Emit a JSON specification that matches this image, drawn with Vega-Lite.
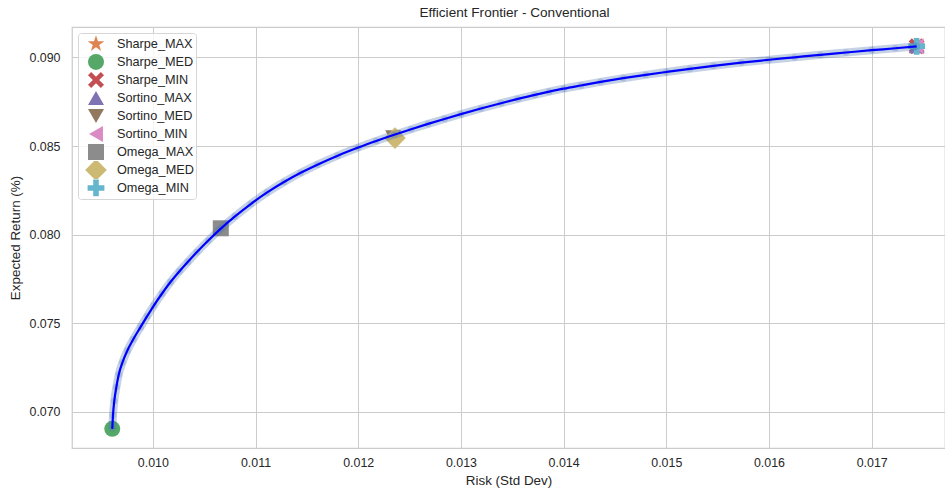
{
  "$schema": "https://vega.github.io/schema/vega-lite/v6.json",
  "width": 873,
  "height": 421,
  "autosize": {"type": "none"},
  "padding": {"left": 72, "top": 27, "right": 0, "bottom": 42},
  "background": "white",
  "title": {"text": "Efficient Frontier - Conventional", "fontSize": 13.6, "fontWeight": "normal", "font": "Liberation Sans", "color": "#262626", "offset": 7, "dx": 6},
  "config": {
    "view": {"stroke": "#cccccc", "strokeWidth": 1.25},
    "axis": {"grid": true, "gridColor": "#cccccc", "gridWidth": 1, "domain": false, "ticks": false, "labelFont": "Liberation Sans", "titleFont": "Liberation Sans", "labelFontSize": 12.4, "titleFontSize": 13.4, "titleFontWeight": "normal", "labelColor": "#262626", "titleColor": "#262626"},
    "legend": {"orient": "top-left", "offset": 6, "padding": 2, "rowPadding": 0, "columnPadding": 0, "columns": 1, "clipHeight": 17.9, "symbolSize": 256, "labelFontSize": 12.7, "labelFont": "Liberation Sans", "labelColor": "#262626", "strokeColor": "#d6d6d6", "fillColor": "rgba(255,255,255,0.8)", "cornerRadius": 3, "symbolOffset": 8, "labelOffset": 13, "symbolOpacity": 1, "symbolStrokeWidth": 0}
  },
  "datasets": {
    "frontier": [
      {"risk": 0.009605, "ret": 0.06904},
      {"risk": 0.009612, "ret": 0.06980},
      {"risk": 0.009625, "ret": 0.07062},
      {"risk": 0.009645, "ret": 0.07140},
      {"risk": 0.009669, "ret": 0.07212},
      {"risk": 0.009705, "ret": 0.07280},
      {"risk": 0.009751, "ret": 0.07345},
      {"risk": 0.009810, "ret": 0.07410},
      {"risk": 0.009880, "ret": 0.07478},
      {"risk": 0.009945, "ret": 0.07540},
      {"risk": 0.010010, "ret": 0.07600},
      {"risk": 0.010090, "ret": 0.07668},
      {"risk": 0.010172, "ret": 0.07733},
      {"risk": 0.010260, "ret": 0.07794},
      {"risk": 0.010340, "ret": 0.07846},
      {"risk": 0.010430, "ret": 0.07902},
      {"risk": 0.010540, "ret": 0.07967},
      {"risk": 0.010662, "ret": 0.08034},
      {"risk": 0.010800, "ret": 0.08103},
      {"risk": 0.010953, "ret": 0.08173},
      {"risk": 0.011110, "ret": 0.08237},
      {"risk": 0.011277, "ret": 0.08297},
      {"risk": 0.011440, "ret": 0.08349},
      {"risk": 0.011602, "ret": 0.08395},
      {"risk": 0.011800, "ret": 0.08446},
      {"risk": 0.012000, "ret": 0.08492},
      {"risk": 0.012175, "ret": 0.08529},
      {"risk": 0.012350, "ret": 0.08564},
      {"risk": 0.012515, "ret": 0.08595},
      {"risk": 0.012680, "ret": 0.08625},
      {"risk": 0.012840, "ret": 0.08653},
      {"risk": 0.013000, "ret": 0.08680},
      {"risk": 0.013195, "ret": 0.08712},
      {"risk": 0.013390, "ret": 0.08742},
      {"risk": 0.013555, "ret": 0.08766},
      {"risk": 0.013720, "ret": 0.08789},
      {"risk": 0.013860, "ret": 0.08807},
      {"risk": 0.014000, "ret": 0.08824},
      {"risk": 0.014168, "ret": 0.08842},
      {"risk": 0.014360, "ret": 0.08862},
      {"risk": 0.014580, "ret": 0.08883},
      {"risk": 0.014800, "ret": 0.08902},
      {"risk": 0.015000, "ret": 0.08918},
      {"risk": 0.015230, "ret": 0.08936},
      {"risk": 0.015460, "ret": 0.08953},
      {"risk": 0.015730, "ret": 0.08971},
      {"risk": 0.016000, "ret": 0.08987},
      {"risk": 0.016250, "ret": 0.09001},
      {"risk": 0.016500, "ret": 0.09015},
      {"risk": 0.016750, "ret": 0.09028},
      {"risk": 0.017000, "ret": 0.09041},
      {"risk": 0.017230, "ret": 0.09052},
      {"risk": 0.017438, "ret": 0.09063}
    ],
    "markers": [
      {"name": "Sharpe_MAX", "risk": 0.017438, "ret": 0.09063},
      {"name": "Sharpe_MED", "risk": 0.009605, "ret": 0.06904},
      {"name": "Sharpe_MIN", "risk": 0.017438, "ret": 0.09063},
      {"name": "Sortino_MAX", "risk": 0.017438, "ret": 0.09063},
      {"name": "Sortino_MED", "risk": 0.012340, "ret": 0.08550},
      {"name": "Sortino_MIN", "risk": 0.017438, "ret": 0.09063},
      {"name": "Omega_MAX", "risk": 0.010662, "ret": 0.08036},
      {"name": "Omega_MED", "risk": 0.012358, "ret": 0.08545},
      {"name": "Omega_MIN", "risk": 0.017438, "ret": 0.09063}
    ]
  },
  "encoding": {
    "x": {"field": "risk", "type": "quantitative", "scale": {"domain": [0.009213, 0.017714], "nice": false, "zero": false}, "axis": {"title": "Risk (Std Dev)", "values": [0.010, 0.011, 0.012, 0.013, 0.014, 0.015, 0.016, 0.017], "format": ".3f", "labelPadding": 8, "titlePadding": 5}},
    "y": {"field": "ret", "type": "quantitative", "scale": {"domain": [0.06796, 0.09172], "nice": false, "zero": false}, "axis": {"title": "Expected Return (%)", "values": [0.070, 0.075, 0.080, 0.085, 0.090], "format": ".3f", "labelPadding": 12, "titlePadding": 6}}
  },
  "layer": [
    {
      "data": {"name": "markers"},
      "mark": {"type": "point", "filled": true, "size": 256, "opacity": 1, "strokeWidth": 0},
      "encoding": {
        "shape": {"field": "name", "type": "nominal", "sort": null,
          "scale": {"domain": ["Sharpe_MAX", "Sharpe_MED", "Sharpe_MIN", "Sortino_MAX", "Sortino_MED", "Sortino_MIN", "Omega_MAX", "Omega_MED", "Omega_MIN"],
            "range": [
              "M0,-1.1L0.247,-0.34L1.046,-0.34L0.4,0.13L0.647,0.89L0,0.42L-0.647,0.89L-0.4,0.13L-1.046,-0.34L-0.247,-0.34Z",
              "circle",
              "M-1,-0.6L-0.6,-1L0,-0.4L0.6,-1L1,-0.6L0.4,0L1,0.6L0.6,1L0,0.4L-0.6,1L-1,0.6L-0.4,0Z",
              "triangle-up",
              "triangle-down",
              "triangle-left",
              "square",
              "M-1.35,0L0,-1.35L1.35,0L0,1.35Z",
              "M-0.35,-1.05L0.35,-1.05L0.35,-0.35L1.05,-0.35L1.05,0.35L0.35,0.35L0.35,1.05L-0.35,1.05L-0.35,0.35L-1.05,0.35L-1.05,-0.35L-0.35,-0.35Z"
            ]},
          "legend": {"title": null}},
        "color": {"field": "name", "type": "nominal", "sort": null,
          "scale": {"domain": ["Sharpe_MAX", "Sharpe_MED", "Sharpe_MIN", "Sortino_MAX", "Sortino_MED", "Sortino_MIN", "Omega_MAX", "Omega_MED", "Omega_MIN"],
            "range": ["#dd8452", "#55a868", "#c44e52", "#8172b3", "#937860", "#da8bc3", "#8c8c8c", "#ccb974", "#64b5cd"]},
          "legend": {"title": null}}
      }
    },
    {
      "data": {"name": "frontier"},
      "mark": {"type": "line", "stroke": "#4c72b0", "strokeWidth": 8, "opacity": 0.32, "interpolate": "monotone"},
      "encoding": {}
    },
    {
      "data": {"name": "frontier"},
      "mark": {"type": "point", "filled": true, "size": 45, "color": "#4c72b0", "opacity": 0.22, "strokeWidth": 0},
      "encoding": {}
    },
    {
      "data": {"name": "frontier"},
      "mark": {"type": "line", "color": "#0000ff", "strokeWidth": 2.2, "interpolate": "monotone"},
      "encoding": {}
    }
  ]
}
